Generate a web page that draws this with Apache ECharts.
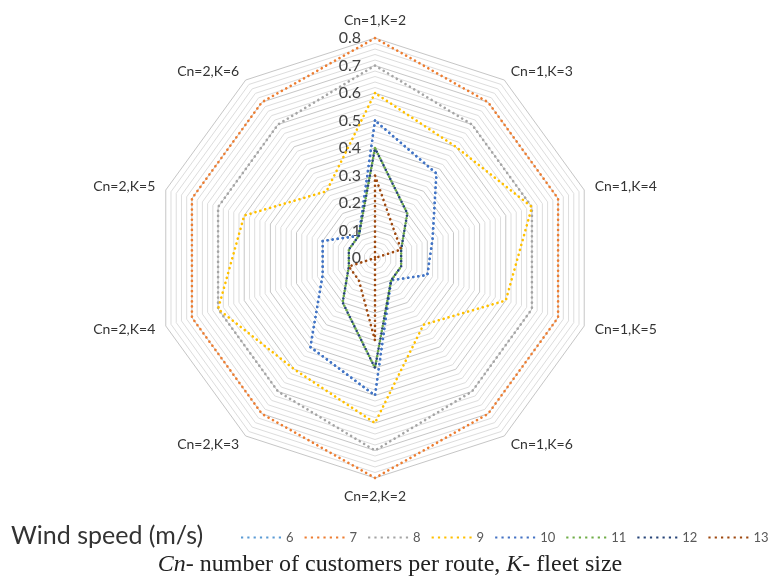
<!DOCTYPE html>
<html>
<head>
<meta charset="utf-8">
<script src="https://cdn.jsdelivr.net/npm/echarts@6/dist/echarts.min.js"></script>
<style>
html,body{margin:0;padding:0;background:#fff;}
#chart{width:780px;height:578px;}
</style>
</head>
<body>
<div id="chart"></div>
<script>
// Axes in clockwise order starting from the top
const categories = ['Cn=1,K=2','Cn=1,K=3','Cn=1,K=4','Cn=1,K=5','Cn=1,K=6','Cn=2,K=2','Cn=2,K=3','Cn=2,K=4','Cn=2,K=5','Cn=2,K=6'];
const seriesNames = ['6','7','8','9','10','11','12','13'];
const ws6  = [0.5, 0.38, 0.22, 0.2, 0.1, 0.5, 0.4, 0.2, 0.2, 0.1];
const ws7  = [0.8, 0.7, 0.7, 0.7, 0.7, 0.8, 0.7, 0.7, 0.7, 0.7];
const ws8  = [0.7, 0.6, 0.6, 0.6, 0.6, 0.7, 0.6, 0.6, 0.6, 0.6];
const ws9  = [0.6, 0.5, 0.6, 0.5, 0.3, 0.6, 0.5, 0.6, 0.5, 0.3];
const ws10 = [0.5, 0.38, 0.22, 0.2, 0.1, 0.5, 0.4, 0.2, 0.2, 0.1];
const ws11 = [0.4, 0.2, 0.1, 0.1, 0.1, 0.4, 0.2, 0.1, 0.1, 0.1];
const ws12 = [0.4, 0.2, 0.1, 0.1, 0.1, 0.4, 0.2, 0.1, 0.1, 0.1];
const ws13 = [0.3, 0.12, 0.1, 0, 0, 0.3, 0.1, 0.1, 0, 0];
const radialMax = 0.8;
const radialStep = 0.02;
const colors = ['#5B9BD5','#ED7D31','#A5A5A5','#FFC000','#4472C4','#70AD47','#264478','#9E480E'];
const allData = [ws6, ws7, ws8, ws9, ws10, ws11, ws12, ws13];

// ECharts lays indicators counter-clockwise; reorder so the picture runs clockwise
const order = [0,9,8,7,6,5,4,3,2,1];
const font = 'Lato, "Open Sans", sans-serif';

const indicator = order.map((i, k) => {
  const o = { name: categories[i], max: radialMax, min: 0 };
  if (k === 0) {
    o.axisLabel = {
      show: true,
      margin: 14,
      color: '#404040',
      fontSize: 16,
      fontFamily: font,
      formatter: function (v) {
        const t = v * 10;
        if (Math.abs(t - Math.round(t)) > 1e-6) return '';
        return Math.round(t) === 0 ? '0' : (Math.round(t) / 10).toFixed(1);
      }
    };
  }
  return o;
});

// legend icon: row of dots
let iconPath = 'path://';
for (let d = 0; d < 7; d++) {
  const x = (d * 6.3).toFixed(2);
  iconPath += 'M' + x + ',0h2.2v2.2h-2.2z';
}

const series = [{
  type: 'radar',
  symbol: 'none',
  data: allData.map((arr, s) => ({
    name: seriesNames[s],
    value: order.map(i => arr[i]),
    lineStyle: { color: colors[s], width: 2.6, type: [0.1, 5], cap: 'round', dashOffset: s === 6 ? 2.5 : 0 },
    itemStyle: { color: colors[s] }
  }))
}];

const chart = echarts.init(document.getElementById('chart'), null, { renderer: 'canvas' });
chart.setOption({
  animation: false,
  backgroundColor: '#ffffff',
  title: [{
    text: 'Wind speed (m/s)',
    left: 6, top: 518,
    textStyle: { fontFamily: font, fontSize: 25, fontWeight: 'normal', color: '#333' }
  }, {
    text: '{i|Cn}{n|- number of customers per route, }{i|K}{n|- fleet size}',
    left: 'center', top: 548,
    textStyle: {
      fontWeight: 'normal',
      rich: {
        i: { fontFamily: '"Liberation Serif", serif', fontStyle: 'italic', fontWeight: 'normal', fontSize: 24, color: '#222' },
        n: { fontFamily: '"Liberation Serif", serif', fontWeight: 'normal', fontSize: 24, color: '#222' }
      }
    }
  }],
  legend: {
    data: seriesNames,
    left: 236, right: 0, top: 526,
    itemWidth: 40, itemHeight: 2.2,
    itemGap: 11,
    icon: iconPath,
    textStyle: { fontFamily: font, fontSize: 13, color: '#595959' }
  },
  radar: {
    center: [375, 258],
    radius: 220,
    startAngle: 90,
    shape: 'polygon',
    splitNumber: Math.round(radialMax / radialStep),
    nameGap: 11,
    axisName: { color: '#333', fontSize: 14, fontFamily: font },
    axisLine: { show: false },
    axisTick: { show: false },
    axisLabel: { show: false },
    splitArea: { show: false },
    splitLine: { lineStyle: { color: ['#c6c6c6', '#dddddd', '#dddddd', '#dddddd', '#dddddd'], width: 1 } },
    indicator: indicator
  },
  series: series
});
</script>
</body>
</html>
